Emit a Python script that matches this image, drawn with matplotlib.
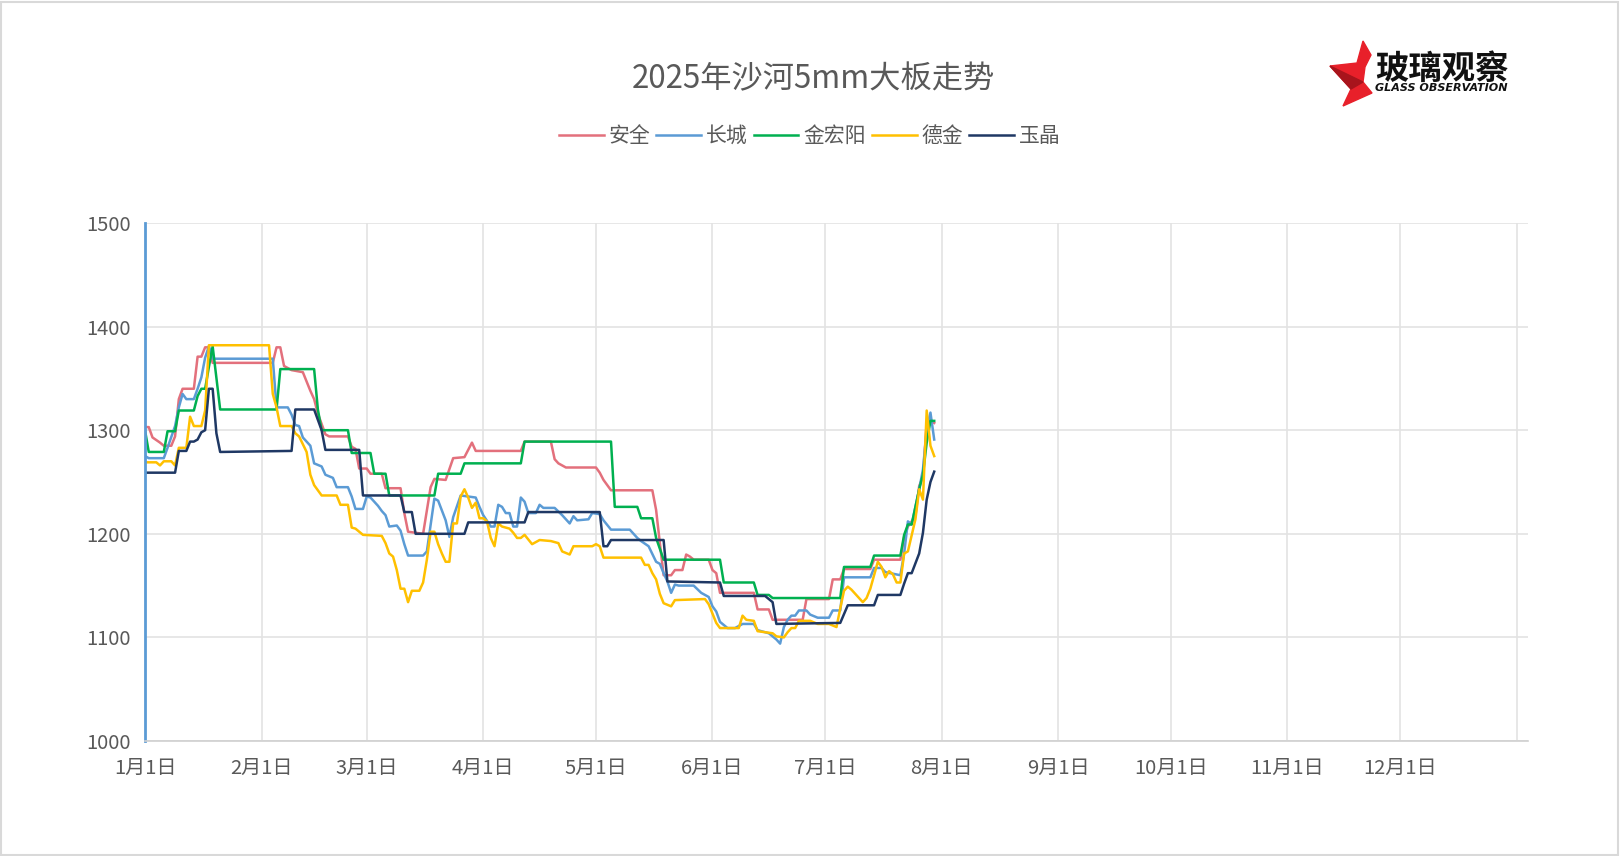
import matplotlib

matplotlib.use("Agg")
import matplotlib.pyplot as plt
import pandas as pd
from matplotlib.patches import Polygon, Rectangle

plt.rcParams["font.family"] = ["Noto Sans CJK SC", "DejaVu Sans"]

TITLE = "2025年沙河5mm大板走势"
SERIES_NAMES = ["安全", "长城", "金宏阳", "德金", "玉晶"]
SERIES_COLORS = ["#E3707C", "#5B9BD5", "#00B050", "#FFC000", "#1F3864"]

# 安全
anquan_dates = ["01-01", "01-02", "01-03", "01-05", "01-06", "01-08", "01-09", "01-10", "01-11", "01-14",
                "01-15", "01-16", "01-17", "01-18", "01-19", "02-04", "02-05", "02-06", "02-07", "02-09",
                "02-12", "02-14", "02-15", "02-16", "02-18", "02-19", "02-24", "02-25", "02-26", "02-27",
                "03-01", "03-02", "03-05", "03-06", "03-10", "03-11", "03-12", "03-16", "03-18", "03-19",
                "03-22", "03-24", "03-27", "03-29", "03-30", "04-11", "04-12", "04-19", "04-20", "04-21",
                "04-23", "05-01", "05-02", "05-03", "05-05", "05-16", "05-17", "05-18", "05-19", "05-21",
                "05-22", "05-24", "05-25", "05-26", "05-27", "05-31", "06-01", "06-02", "06-03", "06-12",
                "06-13", "06-16", "06-17", "06-25", "06-26", "07-02", "07-03", "07-05", "07-06", "07-13",
                "07-14", "07-21", "07-22", "07-23", "07-25", "07-26", "07-27", "07-28", "07-29", "07-30"]
anquan_vals = [1303, 1303, 1293, 1288, 1285, 1285, 1294, 1330, 1340, 1340,
               1371, 1371, 1380, 1380, 1365, 1365, 1380, 1380, 1362, 1358,
               1356, 1338, 1330, 1316, 1296, 1294, 1294, 1284, 1282, 1263,
               1263, 1258, 1258, 1244, 1244, 1220, 1202, 1200, 1245, 1253,
               1252, 1273, 1274, 1288, 1280, 1280, 1289, 1289, 1272, 1268,
               1264, 1264, 1259, 1252, 1242, 1242, 1223, 1191, 1160, 1160,
               1165, 1165, 1180, 1178, 1175, 1175, 1165, 1162, 1143, 1143,
               1127, 1127, 1117, 1117, 1137, 1137, 1156, 1156, 1166, 1166,
               1175, 1175, 1197, 1207, 1217, 1246, 1255, 1307, 1309, 1307]

# 长城
changcheng_dates = ["01-01", "01-02", "01-06", "01-07", "01-09", "01-10", "01-11", "01-12", "01-14", "01-15",
                    "01-16", "01-17", "01-18", "01-19", "02-04", "02-05", "02-08", "02-09", "02-10", "02-11",
                    "02-12", "02-14", "02-15", "02-17", "02-18", "02-20", "02-21", "02-24", "02-25", "02-26",
                    "02-28", "03-01", "03-02", "03-04", "03-05", "03-06", "03-07", "03-09", "03-10", "03-11",
                    "03-12", "03-16", "03-17", "03-19", "03-20", "03-22", "03-23", "03-24", "03-26", "03-30",
                    "03-31", "04-01", "04-03", "04-04", "04-05", "04-06", "04-07", "04-08", "04-09", "04-10",
                    "04-11", "04-12", "04-13", "04-15", "04-16", "04-17", "04-20", "04-22", "04-24", "04-25",
                    "04-26", "04-29", "04-30", "05-02", "05-03", "05-05", "05-10", "05-12", "05-13", "05-15",
                    "05-17", "05-18", "05-19", "05-20", "05-21", "05-22", "05-23", "05-27", "05-29", "05-31",
                    "06-01", "06-02", "06-03", "06-05", "06-07", "06-09", "06-12", "06-13", "06-16", "06-18",
                    "06-19", "06-20", "06-21", "06-22", "06-23", "06-24", "06-26", "06-27", "06-29", "07-02",
                    "07-03", "07-05", "07-06", "07-13", "07-14", "07-16", "07-17", "07-21", "07-22", "07-23",
                    "07-24", "07-26", "07-27", "07-28", "07-29", "07-30"]
changcheng_vals = [1275, 1273, 1273, 1283, 1304, 1322, 1335, 1330, 1330, 1340,
                   1351, 1370, 1381, 1369, 1369, 1322, 1322, 1315, 1305, 1304,
                   1293, 1285, 1268, 1265, 1257, 1254, 1245, 1245, 1236, 1224,
                   1224, 1236, 1235, 1227, 1222, 1218, 1207, 1208, 1203, 1190,
                   1179, 1179, 1183, 1234, 1232, 1213, 1197, 1216, 1237, 1235,
                   1226, 1218, 1207, 1207, 1228, 1226, 1220, 1220, 1207, 1207,
                   1235, 1231, 1220, 1220, 1228, 1225, 1225, 1218, 1210, 1217,
                   1213, 1214, 1220, 1219, 1213, 1204, 1204, 1196, 1193, 1188,
                   1173, 1171, 1162, 1154, 1143, 1151, 1150, 1150, 1143, 1139,
                   1130, 1125, 1115, 1109, 1109, 1113, 1113, 1107, 1104, 1098,
                   1094, 1110, 1117, 1121, 1121, 1126, 1126, 1122, 1119, 1119,
                   1126, 1126, 1158, 1158, 1167, 1167, 1163, 1160, 1181, 1212,
                   1209, 1243, 1262, 1300, 1317, 1291]

# 金宏阳
jinhongyang_dates = ["01-01", "01-02", "01-06", "01-07", "01-09", "01-10", "01-14", "01-15", "01-16", "01-17",
                     "01-18", "01-19", "01-21", "02-05", "02-06", "02-15", "02-16", "02-17", "02-24", "02-25",
                     "03-02", "03-03", "03-06", "03-07", "03-19", "03-20", "03-26", "03-27", "04-11", "04-12",
                     "05-05", "05-06", "05-12", "05-13", "05-16", "05-17", "05-19", "06-03", "06-04", "06-12",
                     "06-13", "06-16", "06-17", "07-05", "07-06", "07-13", "07-14", "07-21", "07-22", "07-23",
                     "07-24", "07-26", "07-27", "07-28", "07-29", "07-30"]
jinhongyang_vals = [1300, 1279, 1279, 1299, 1299, 1319, 1319, 1333, 1340, 1340,
                    1361, 1381, 1320, 1320, 1359, 1359, 1320, 1300, 1300, 1278,
                    1278, 1258, 1258, 1237, 1237, 1258, 1258, 1268, 1268, 1289,
                    1289, 1226, 1226, 1215, 1215, 1196, 1175, 1175, 1153, 1153,
                    1141, 1141, 1138, 1138, 1168, 1168, 1179, 1179, 1199, 1209,
                    1209, 1243, 1257, 1288, 1309, 1309]

# 德金
dejin_dates = ["01-01", "01-04", "01-05", "01-06", "01-08", "01-09", "01-10", "01-12", "01-13", "01-14",
               "01-16", "01-17", "01-18", "02-03", "02-04", "02-05", "02-06", "02-09", "02-10", "02-11",
               "02-13", "02-14", "02-15", "02-17", "02-21", "02-22", "02-24", "02-25", "02-26", "02-28",
               "03-05", "03-06", "03-07", "03-08", "03-09", "03-10", "03-11", "03-12", "03-13", "03-15",
               "03-16", "03-17", "03-18", "03-19", "03-20", "03-21", "03-22", "03-23", "03-24", "03-25",
               "03-26", "03-27", "03-28", "03-29", "03-30", "03-31", "04-01", "04-02", "04-03", "04-04",
               "04-05", "04-06", "04-08", "04-09", "04-10", "04-11", "04-12", "04-14", "04-16", "04-19",
               "04-21", "04-22", "04-24", "04-25", "04-30", "05-01", "05-02", "05-03", "05-13", "05-14",
               "05-15", "05-16", "05-17", "05-18", "05-19", "05-21", "05-22", "05-30", "05-31", "06-01",
               "06-02", "06-03", "06-08", "06-09", "06-10", "06-12", "06-13", "06-17", "06-18", "06-20",
               "06-21", "06-22", "06-23", "06-24", "06-27", "06-29", "07-02", "07-04", "07-05", "07-06",
               "07-07", "07-08", "07-10", "07-11", "07-12", "07-13", "07-15", "07-16", "07-17", "07-18",
               "07-19", "07-20", "07-21", "07-22", "07-23", "07-25", "07-26", "07-27", "07-28", "07-29",
               "07-30"]
dejin_vals = [1269, 1269, 1266, 1270, 1270, 1266, 1283, 1283, 1313, 1304,
              1304, 1319, 1382, 1382, 1335, 1322, 1304, 1304, 1297, 1294,
              1279, 1257, 1247, 1237, 1237, 1228, 1228, 1206, 1205, 1199,
              1198, 1191, 1181, 1178, 1165, 1147, 1147, 1134, 1145, 1145,
              1153, 1175, 1202, 1202, 1190, 1181, 1173, 1173, 1210, 1210,
              1236, 1243, 1235, 1225, 1230, 1215, 1215, 1212, 1196, 1188,
              1210, 1207, 1205, 1201, 1196, 1196, 1199, 1190, 1194, 1193,
              1191, 1183, 1180, 1188, 1188, 1190, 1188, 1177, 1177, 1170,
              1170, 1162, 1156, 1142, 1133, 1130, 1136, 1137, 1132, 1123,
              1114, 1109, 1109, 1121, 1117, 1116, 1106, 1104, 1101, 1100,
              1105, 1109, 1109, 1116, 1116, 1113, 1113, 1110, 1128, 1145,
              1149, 1146, 1138, 1134, 1138, 1147, 1173, 1168, 1158, 1164,
              1161, 1153, 1153, 1181, 1183, 1214, 1243, 1233, 1319, 1285,
              1275]

# 玉晶
yujing_dates = ["01-01", "01-09", "01-10", "01-12", "01-13", "01-14", "01-15", "01-16", "01-17", "01-18",
                "01-19", "01-20", "01-21", "02-09", "02-10", "02-15", "02-16", "02-17", "02-18", "02-27",
                "02-28", "03-10", "03-11", "03-13", "03-14", "03-27", "03-28", "04-12", "04-13", "05-02",
                "05-03", "05-04", "05-05", "05-19", "05-20", "06-03", "06-04", "06-15", "06-17", "06-18",
                "07-05", "07-07", "07-14", "07-15", "07-21", "07-22", "07-23", "07-24", "07-26", "07-27",
                "07-28", "07-29", "07-30"]
yujing_vals = [1259, 1259, 1280, 1280, 1289, 1289, 1291, 1298, 1300, 1340,
               1340, 1297, 1279, 1280, 1320, 1320, 1310, 1300, 1281, 1281,
               1237, 1237, 1221, 1221, 1200, 1200, 1211, 1211, 1221, 1221,
               1188, 1188, 1194, 1194, 1154, 1153, 1140, 1140, 1134, 1113,
               1114, 1131, 1131, 1141, 1141, 1152, 1162, 1162, 1181, 1201,
               1233, 1250, 1260]

month_ticks = pd.date_range("2025-01-01", "2026-01-01", freq="MS")
month_labels = [f"{d.month}月1日" for d in month_ticks[:-1]] + [""]

TEXT_COLOR = "#595959"
GRID_COLOR = "#E3E3E3"


def to_dates(days):
    return pd.to_datetime(["2025-" + d for d in days])


series = [
    (anquan_dates, anquan_vals),
    (changcheng_dates, changcheng_vals),
    (jinhongyang_dates, jinhongyang_vals),
    (dejin_dates, dejin_vals),
    (yujing_dates, yujing_vals),
]

fig = plt.figure(figsize=(16.2, 8.56), dpi=100)
ax = fig.add_axes([145 / 1620, 1 - 741 / 856, (1528 - 145) / 1620, (741 - 223) / 856])

for (days, vals), name, color in zip(series, SERIES_NAMES, SERIES_COLORS):
    ax.plot(to_dates(days), vals, color=color, lw=1.8, label=name, solid_joinstyle="round")

ax.set_xlim(pd.Timestamp("2025-01-01"), pd.Timestamp("2026-01-04"))
ax.set_ylim(1000, 1500)
ax.set_yticks(range(1000, 1501, 100))
ax.set_xticks(month_ticks, month_labels)
ax.grid(True, color=GRID_COLOR, lw=1.2)
ax.set_axisbelow(True)
ax.tick_params(length=0, labelsize=14.5, colors=TEXT_COLOR)
ax.tick_params(axis="x", pad=12)
ax.tick_params(axis="y", pad=10.5)
for side in ["top", "right"]:
    ax.spines[side].set_visible(False)
ax.spines["left"].set_color("#5B9BD5")
ax.spines["left"].set_linewidth(2)
ax.spines["bottom"].set_color("#D0D0D0")
ax.spines["bottom"].set_linewidth(1.2)

fig.text(813 / 1620, 1 - 79 / 856, TITLE, ha="center", va="center", fontsize=22.5, color=TEXT_COLOR)
fig.legend(loc="center", bbox_to_anchor=(810 / 1620, 1 - 136 / 856), ncol=5, frameon=False,
           fontsize=15, handlelength=2.14, handletextpad=0.25, columnspacing=0.28, labelcolor=TEXT_COLOR)


# logo
def px(points):
    return [(x / 1620, 1 - y / 856) for x, y in points]


star = [(1363, 41), (1371, 55), (1365, 67), (1363, 82), (1372, 93), (1343, 106), (1351, 89),
        (1330, 66), (1357, 63)]
fig.patches.append(Polygon(px(star), closed=True, transform=fig.transFigure, color="#E8202A"))
fig.patches.append(Polygon(px([(1330, 66), (1363, 82), (1351, 89)]), closed=True,
                           transform=fig.transFigure, color="#A8141C"))
fig.text(1442 / 1620, 1 - 69 / 856, "玻璃观察", ha="center", va="center", fontsize=24,
         fontweight="heavy", color="#111111")
fig.text(1441 / 1620, 1 - 88 / 856, "GLASS OBSERVATION", ha="center", va="center", fontsize=8,
         fontweight="bold", fontstyle="italic", family="DejaVu Sans", color="#111111")

fig.patches.append(Rectangle((1 / 1620, 1 / 856), 1 - 3 / 1620, 1 - 3 / 856, transform=fig.transFigure,
                             fill=False, edgecolor="#D9D9D9", lw=1.5))

fig.savefig("out.png", dpi=100)
plt.close(fig)
